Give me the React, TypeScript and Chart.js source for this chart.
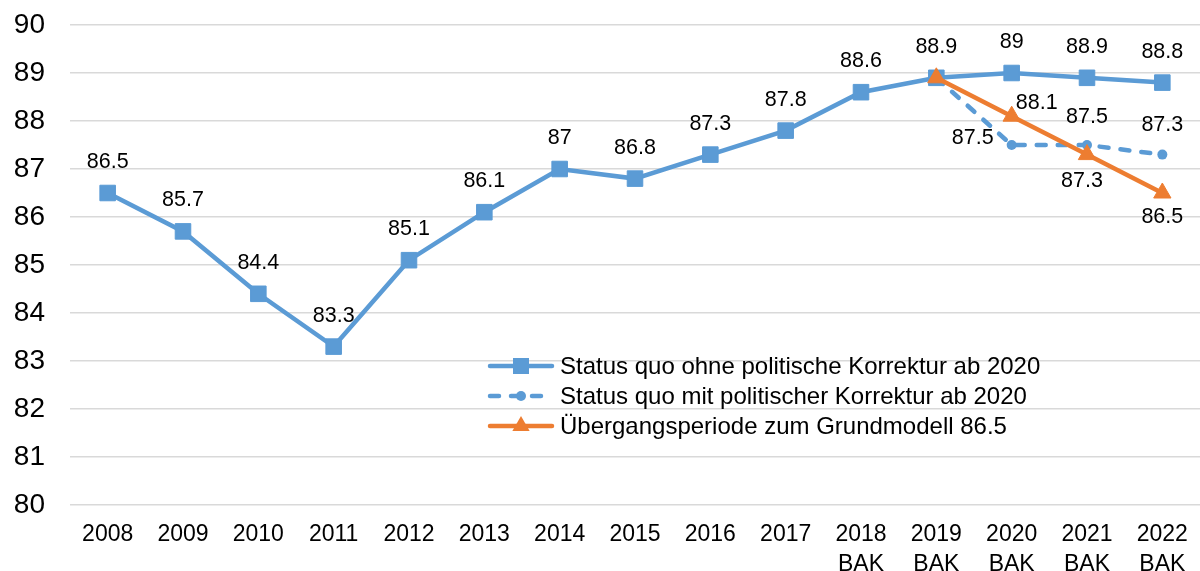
import React, { useEffect, useRef } from "react";
import { Chart, registerables } from "chart.js";

Chart.register(...registerables);

// ---- data ----
const years = ["2008", "2009", "2010", "2011", "2012", "2013", "2014", "2015", "2016", "2017", "2018", "2019", "2020", "2021", "2022"];
const bakYears = ["2018", "2019", "2020", "2021", "2022"];
const yTickMin = 80;
const yTickMax = 90;
const yTickStep = 1;

const statusQuoOhne = [86.5, 85.7, 84.4, 83.3, 85.1, 86.1, 87, 86.8, 87.3, 87.8, 88.6, 88.9, 89, 88.9, 88.8];
const statusQuoMit = [null, null, null, null, null, null, null, null, null, null, null, 88.9, 87.5, 87.5, 87.3];
const uebergang = [null, null, null, null, null, null, null, null, null, null, null, 88.9, 88.1, 87.3, 86.5];

const seriesNames = [
  "Status quo ohne politische Korrektur ab 2020",
  "Status quo mit politischer Korrektur ab 2020",
  "Übergangsperiode zum Grundmodell 86.5",
];

// ---- styles ----
const BLUE = "#5B9BD5";
const ORANGE = "#ED7D31";
const FONT = "'Liberation Sans', Arial, sans-serif";

// label offsets (dx, dy) per dataset/point; null = no label
const solidOff = years.map(() => [0, -31]);
const dashedOff: any[] = years.map(() => null);
dashedOff[12] = [-39, -7];
dashedOff[13] = [0, -28];
dashedOff[14] = [0, -30];
const orangeOff: any[] = years.map(() => null);
orangeOff[12] = [25, -13];
orangeOff[13] = [-5, 26];
orangeOff[14] = [0, 24];
const labelOffsets = [solidOff, dashedOff, orangeOff];

const labelPlugin = {
  id: "valueLabels",
  afterDatasetsDraw(chart: any) {
    const ctx = chart.ctx;
    ctx.save();
    ctx.font = `21.5px ${FONT}`;
    ctx.fillStyle = "#000";
    ctx.textAlign = "center";
    ctx.textBaseline = "middle";
    chart.data.datasets.forEach((ds: any, di: number) => {
      const meta = chart.getDatasetMeta(di);
      meta.data.forEach((pt: any, i: number) => {
        const v = ds.data[i];
        const off = labelOffsets[di][i];
        if (v == null || !off) return;
        ctx.fillText(String(v), pt.x + off[0], pt.y + off[1]);
      });
    });
    ctx.restore();
  },
};

function drawMarker(ctx: CanvasRenderingContext2D, kind: string, x: number, y: number, color: string) {
  ctx.fillStyle = color;
  ctx.beginPath();
  if (kind === "rect") {
    const s = 8;
    ctx.rect(x - s, y - s, 2 * s, 2 * s);
  } else if (kind === "circle") {
    ctx.arc(x, y, 5, 0, Math.PI * 2);
  } else {
    const r = 10;
    ctx.moveTo(x, y - r);
    ctx.lineTo(x + r * Math.sin((2 * Math.PI) / 3), y - r * Math.cos((2 * Math.PI) / 3));
    ctx.lineTo(x + r * Math.sin((4 * Math.PI) / 3), y - r * Math.cos((4 * Math.PI) / 3));
    ctx.closePath();
  }
  ctx.fill();
}

const legendPlugin = {
  id: "customLegend",
  afterDraw(chart: any) {
    const ctx = chart.ctx;
    const area = chart.chartArea;
    const x0 = area.left + 418;
    const y0 = area.top + 341;
    const rowH = 30;
    const items = [
      { color: BLUE, dash: [], marker: "rect" },
      { color: BLUE, dash: [9, 12], marker: "circle" },
      { color: ORANGE, dash: [], marker: "triangle" },
    ];
    ctx.save();
    items.forEach((it, i) => {
      const y = y0 + i * rowH;
      ctx.strokeStyle = it.color;
      ctx.lineWidth = 4.5;
      ctx.lineCap = "round";
      ctx.setLineDash(it.dash);
      ctx.beginPath();
      ctx.moveTo(x0 + 2, y);
      ctx.lineTo(x0 + 64, y);
      ctx.stroke();
      ctx.setLineDash([]);
      drawMarker(ctx, it.marker, x0 + 33, y, it.color);
      ctx.fillStyle = "#000";
      ctx.font = `24px ${FONT}`;
      ctx.textAlign = "left";
      ctx.textBaseline = "middle";
      ctx.fillText(seriesNames[i], x0 + 72, y + 1);
    });
    ctx.restore();
  },
};

export default function App() {
  const canvasRef = useRef<HTMLCanvasElement | null>(null);

  useEffect(() => {
    document.body.style.margin = "0";
    const canvas = canvasRef.current;
    if (!canvas) return;
    const labels = years.map((y) => (bakYears.includes(y) ? [y, "BAK"] : y));
    const chart = new Chart(canvas, {
      type: "line",
      data: {
        labels,
        datasets: [
          {
            label: seriesNames[0],
            data: statusQuoOhne,
            borderColor: BLUE,
            backgroundColor: BLUE,
            borderWidth: 4.5,
            pointStyle: "rect",
            pointRadius: 11,
            pointBorderWidth: 1,
            pointBackgroundColor: BLUE,
            pointBorderColor: BLUE,
            tension: 0,
            order: 2,
          },
          {
            label: seriesNames[1],
            data: statusQuoMit,
            borderColor: BLUE,
            backgroundColor: BLUE,
            borderWidth: 4.5,
            borderDash: [9, 12],
            borderCapStyle: "round",
            pointStyle: "circle",
            pointRadius: 5,
            pointBorderWidth: 0,
            pointBackgroundColor: BLUE,
            tension: 0,
            spanGaps: false,
            order: 1,
          },
          {
            label: seriesNames[2],
            data: uebergang,
            borderColor: ORANGE,
            backgroundColor: ORANGE,
            borderWidth: 4.5,
            pointStyle: "triangle",
            pointRadius: 10,
            pointBorderWidth: 1,
            pointBackgroundColor: ORANGE,
            pointBorderColor: ORANGE,
            tension: 0,
            spanGaps: false,
            order: 0,
          },
        ],
      },
      options: {
        responsive: false,
        animation: false,
        layout: { autoPadding: false, padding: { top: 25, right: 0, left: 0, bottom: 0 } },
        plugins: {
          legend: { display: false },
          tooltip: { enabled: false },
        },
        scales: {
          x: {
            offset: true,
            grid: { display: false, drawTicks: false },
            border: { display: false },
            ticks: {
              color: "#000",
              font: { family: FONT, size: 23, lineHeight: 1.3 },
              padding: 15,
              maxRotation: 0,
              autoSkip: false,
            },
            afterFit: (s: any) => {
              s.height = 66;
              s.paddingLeft = 0;
              s.paddingRight = 0;
              s.paddingTop = 0;
              s.paddingBottom = 0;
            },
          },
          y: {
            min: yTickMin,
            max: yTickMax,
            grid: { color: "#d9d9d9", lineWidth: 1.5, drawTicks: false },
            border: { display: false },
            ticks: {
              stepSize: yTickStep,
              color: "#000",
              font: { family: FONT, size: 28 },
              padding: 25,
            },
            afterFit: (s: any) => {
              s.width = 70;
              s.paddingTop = 0;
              s.paddingBottom = 0;
              s.paddingLeft = 0;
              s.paddingRight = 0;
            },
          },
        },
      },
      plugins: [labelPlugin, legendPlugin],
    } as any);
    return () => chart.destroy();
  }, []);

  return (
    <div style={{ width: 1200, height: 571 }}>
      <canvas ref={canvasRef} width={1200} height={571} style={{ display: "block" }} />
    </div>
  );
}
